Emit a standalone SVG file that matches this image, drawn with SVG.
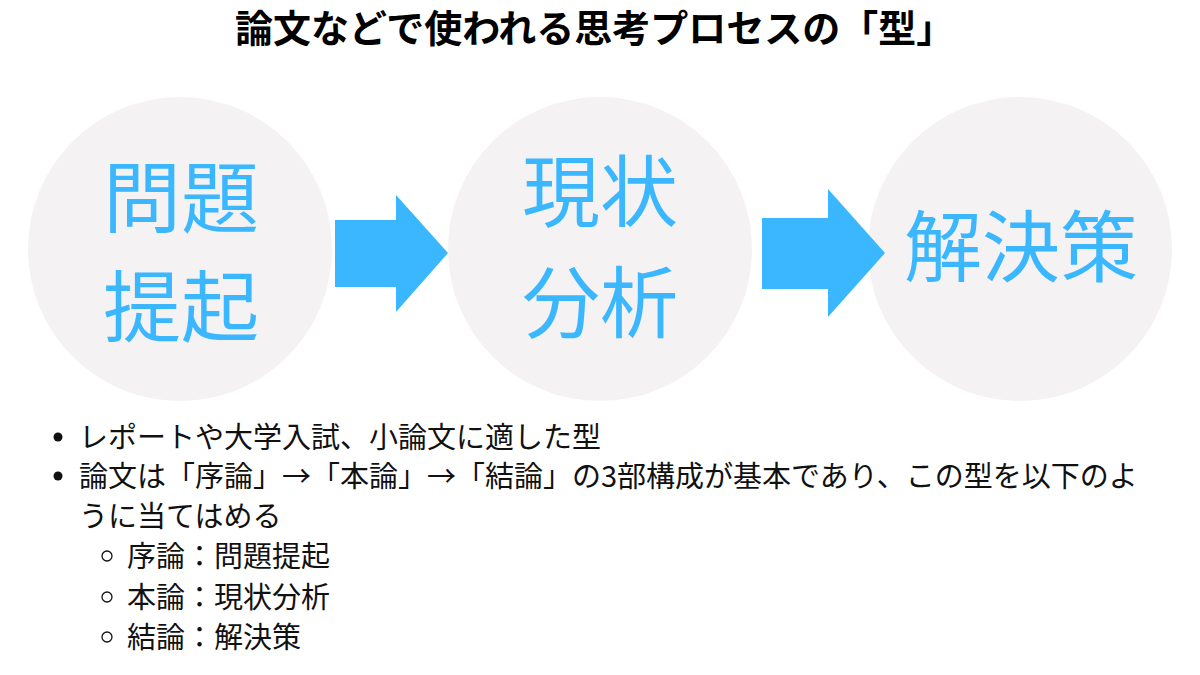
<svg xmlns="http://www.w3.org/2000/svg" width="1200" height="675" viewBox="0 0 1200 675">
<style>
.circ{fill:#f4f2f3}
.big{font-family:"Noto Sans CJK JP","Noto Sans CJK SC",sans-serif;font-size:78px;fill:#3bb7ff;text-anchor:middle}
.arrow{fill:#3bb7ff}
.title{font-family:"Noto Sans CJK JP",sans-serif;font-size:38px;font-weight:bold;fill:#000}
.body{font-family:"Noto Sans CJK JP",sans-serif;font-size:29px;fill:#111}
</style>
<rect width="1200" height="675" fill="#ffffff"/>
<text class="title" x="235" y="42">論文などで使われる思考プロセスの「型」</text>
<g id="node-problem">
<circle class="circ" cx="180" cy="249" r="152"/>
<text class="big" x="181" y="227">問題</text>
<text class="big" x="181" y="336">提起</text>
</g>
<g id="node-analysis">
<circle class="circ" cx="600" cy="249" r="152"/>
<text class="big" x="600" y="221">現状</text>
<text class="big" x="600" y="332">分析</text>
</g>
<g id="node-solution">
<circle class="circ" cx="1020" cy="249" r="152"/>
<text class="big" x="1021" y="276">解決策</text>
</g>
<g id="connectors">
<polygon class="arrow" points="335,220 396,220 396,195 448,253 396,312 396,287 335,287"/>
<polygon class="arrow" points="762,218 828,218 828,189 885,253 828,317 828,289 762,289"/>
</g>
<g id="notes">
<circle cx="58" cy="437" r="4.5" fill="#111"/>
<text class="body" x="79" y="448">レポートや大学入試、小論文に適した型</text>
<circle cx="58" cy="476" r="4.5" fill="#111"/>
<text class="body" x="79" y="487">論文は「序論」→「本論」→「結論」の3部構成が基本であり、この型を以下のよ</text>
<text class="body" x="79" y="527">うに当てはめる</text>
<circle cx="107" cy="556" r="5" fill="none" stroke="#111" stroke-width="1.3"/>
<text class="body" x="127" y="567">序論：問題提起</text>
<circle cx="107" cy="597" r="5" fill="none" stroke="#111" stroke-width="1.3"/>
<text class="body" x="127" y="608">本論：現状分析</text>
<circle cx="107" cy="637" r="5" fill="none" stroke="#111" stroke-width="1.3"/>
<text class="body" x="127" y="648">結論：解決策</text>
</g>
</svg>
